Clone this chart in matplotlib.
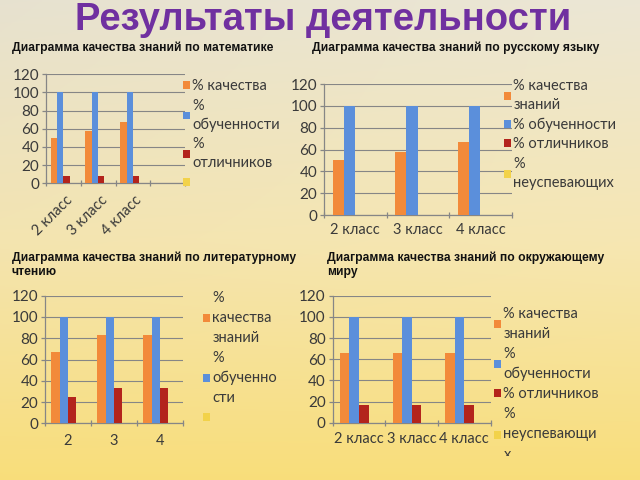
import numpy as np
import matplotlib
matplotlib.use("Agg")
import matplotlib.pyplot as plt
from matplotlib.transforms import Bbox, ScaledTranslation

plt.rcParams['font.family'] = ['Lato', 'DejaVu Sans']

# ---------------- data ----------------
title = "Результаты деятельности"
subtitles = [
    "Диаграмма качества знаний по математике",
    "Диаграмма качества знаний по русскому языку",
    "Диаграмма качества знаний по литературному\nчтению",
    "Диаграмма качества знаний по окружающему\nмиру",
]

series_colors = ['#f28a3a', '#5b8fdb', '#b3241c', '#f2d24a']

math_cats = ["2 класс", "3 класс", "4 класс", ""]
math_quality = [50, 58, 67, np.nan]
math_learning = [100, 100, 100, np.nan]
math_excellent = [8, 8, 8, np.nan]
math_failing = [0, 0, 0, np.nan]
math_legend = ["% качества", "%\nобученности", "%\nотличников", ""]

rus_cats = ["2 класс", "3 класс", "4 класс"]
rus_quality = [50, 58, 67]
rus_learning = [100, 100, 100]
rus_excellent = [0, 0, 0]
rus_failing = [0, 0, 0]
rus_legend = ["% качества\nзнаний", "% обученности", "% отличников", "%\nнеуспевающих"]

lit_cats = ["2", "3", "4"]
lit_quality = [67, 83, 83]
lit_learning = [100, 100, 100]
lit_excellent = [25, 33, 33]
lit_failing = [0, 0, 0]
lit_legend = ["%\nкачества\nзнаний", "%\nобученно\nсти", ""]
lit_legend_series = [0, 1, 3]

world_cats = ["2 класс", "3 класс", "4 класс"]
world_quality = [66, 66, 66]
world_learning = [100, 100, 100]
world_excellent = [17, 17, 17]
world_failing = [0, 0, 0]
world_legend = ["% качества\nзнаний", "%\nобученности", "% отличников", "%\nнеуспевающи\nх"]

yticks = [0, 20, 40, 60, 80, 100, 120]

# ---------------- figure ----------------
W, H = 640, 480
fig = plt.figure(figsize=(6.4, 4.8), dpi=100)


def fx(x):
    return x / W


def fy(y):
    return 1 - y / H


def rect(l, t, r, b):
    return [l / W, 1 - b / H, (r - l) / W, (b - t) / H]


# background gradient
bg = fig.add_axes([0, 0, 1, 1], zorder=-10)
yy = np.linspace(0, 1, 256)[:, None]
xx = np.linspace(0, 1, 256)[None, :]
top = np.array([0.905, 0.885, 0.815])
mid = np.array([0.955, 0.895, 0.690])
bot = np.array([0.975, 0.870, 0.480])
t = yy
c1 = top * (1 - np.clip(t * 2, 0, 1))[..., None] + mid * np.clip(t * 2, 0, 1)[..., None]
c2 = mid * (1 - np.clip(t * 2 - 1, 0, 1))[..., None] + bot * np.clip(t * 2 - 1, 0, 1)[..., None]
img = np.where((t < 0.5)[..., None], c1, c2)
img = np.broadcast_to(img, (256, 256, 3)).copy()
img += (0.02 * xx * (1 - yy))[..., None]
img = np.clip(img, 0, 1)
bg.imshow(img, aspect='auto', extent=[0, 1, 0, 1], origin='upper')
bg.axis('off')

fig.text(fx(323), fy(30.5), title, ha='center', va='baseline', fontsize=27.5,
         fontweight='bold', color='#7030A0', family=['Liberation Sans', 'DejaVu Sans'])

sub_pos = [(12, 48), (312, 48), (12, 264.5), (327, 264.5)]
for (x, y), s in zip(sub_pos, subtitles):
    fig.text(fx(x), fy(y), s, ha='left', va='center', fontsize=8.7,
             fontweight='bold', color='#111111', linespacing=1.2,
             family=['Liberation Sans', 'DejaVu Sans'])

GRID = '#868686'
TXT = '#3a3a3a'
FS = 10.5


def chart(box, cats, series, legend_labels, legend_series, legend_anchor,
          rotate=False, linespacing=1.45, labelspacing=0.38, xpad=5,
          clip_below=None):
    ax = fig.add_axes(rect(*box))
    ax.set_facecolor('none')
    n = len(series)
    x = np.arange(len(cats))
    w = 1 / (n + 1.5)
    bars = []
    for i, vals in enumerate(series):
        off = (i - (n - 1) / 2) * w
        b = ax.bar(x + off, vals, width=w, color=series_colors[i], zorder=3)
        bars.append(b)
    ax.set_xlim(-0.5, len(cats) - 0.5)
    ax.set_ylim(0, 120)
    ax.set_yticks(yticks)
    ax.yaxis.grid(True, color=GRID, lw=0.8, zorder=0)
    ax.set_axisbelow(True)
    for s in ['top', 'right']:
        ax.spines[s].set_visible(False)
    for s in ['left', 'bottom']:
        ax.spines[s].set_color(GRID)
        ax.spines[s].set_linewidth(0.9)
    ax.set_xticks(x)
    ax.set_xticks(np.arange(len(cats) + 1) - 0.5, minor=True)
    ax.tick_params(axis='x', which='major', length=0, labelsize=FS,
                   labelcolor=TXT, pad=xpad)
    ax.tick_params(axis='x', which='minor', length=5, direction='inout',
                   color=GRID, width=0.9)
    ax.tick_params(axis='y', length=3, color=GRID, width=0.9, labelsize=11,
                   labelcolor=TXT, pad=2)
    if rotate:
        labels = ax.set_xticklabels(cats, rotation=45, ha='right',
                                    rotation_mode='anchor')
        off = ScaledTranslation(0.02, -0.04, fig.dpi_scale_trans)
        for lb in labels:
            lb.set_transform(lb.get_transform() + off)
    else:
        ax.set_xticklabels(cats)
    handles = [bars[i] for i in legend_series]
    leg = fig.legend(handles, legend_labels, loc='upper left',
                     bbox_to_anchor=(fx(legend_anchor[0]), fy(legend_anchor[1])),
                     frameon=False, fontsize=FS, handlelength=0.45,
                     handleheight=0.45, handletextpad=0.2,
                     labelspacing=labelspacing,
                     borderpad=0, borderaxespad=0)
    for tx in leg.get_texts():
        tx.set_color(TXT)
        tx.set_linespacing(linespacing)
    if clip_below is not None:
        cb = Bbox.from_extents(0, H - clip_below, W, H)
        for tx in leg.get_texts():
            tx.set_clip_box(cb)
            tx.set_clip_on(True)
    return ax


chart((46, 74.3, 185, 183.3), math_cats,
      [math_quality, math_learning, math_excellent, math_failing],
      math_legend, [0, 1, 2, 3], (183, 79), rotate=True, xpad=4)

chart((324, 84, 511.7, 215), rus_cats,
      [rus_quality, rus_learning, rus_excellent, rus_failing],
      rus_legend, [0, 1, 2, 3], (504, 79), xpad=6)

chart((45, 295.7, 183, 423.3), lit_cats,
      [lit_quality, lit_learning, lit_excellent, lit_failing],
      lit_legend, lit_legend_series, (203, 290.5), linespacing=1.55,
      labelspacing=0.42, xpad=8)

chart((332.7, 295.7, 490.7, 422.7), world_cats,
      [world_quality, world_learning, world_excellent, world_failing],
      world_legend, [0, 1, 2, 3], (494, 306.5), linespacing=1.55,
      labelspacing=0.42, xpad=7, clip_below=456)

fig.savefig("out.png", dpi=100)
